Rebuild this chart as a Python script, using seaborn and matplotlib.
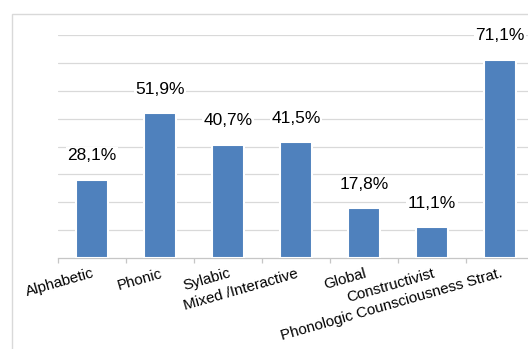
import matplotlib
matplotlib.use("Agg")
import matplotlib.pyplot as plt
from matplotlib.patches import Rectangle
import seaborn as sns

# Reading-teaching methods and share of respondents using them (%)
methods = [
    "Alphabetic",
    "Phonic",
    "Sylabic",
    "Mixed /Interactive",
    "Global",
    "Constructivist",
    "Phonologic Counsciousness Strat.",
]
shares = [28.1, 51.9, 40.7, 41.5, 17.8, 11.1, 71.1]
grid_levels = [10, 20, 30, 40, 50, 60, 70, 80]

BAR_BLUE = "#4F81BD"
GRID_GREY = "#d9d9d9"
AXIS_GREY = "#c6c6c6"

sns.set_style("white")
plt.rcParams["font.family"] = ["Liberation Sans", "DejaVu Sans"]

W, H = 528, 349
fig = plt.figure(figsize=(W / 100, H / 100), dpi=100)

# outer chart frame (runs off the right and bottom edges)
fig.patches.append(
    Rectangle((12 / W, -0.1), 1.2, (H - 14) / H + 0.1, transform=fig.transFigure,
              fill=False, edgecolor=GRID_GREY, linewidth=1.0)
)

ax = fig.add_axes([58 / W, 91 / H, (534 - 58) / W, 223 / H])

sns.barplot(x=methods, y=shares, color=BAR_BLUE, saturation=1, width=0.47,
            edgecolor="white", linewidth=1.5, ax=ax, zorder=3)

ax.set_ylim(0, 80)
ax.set_xlim(-0.5, len(methods) - 0.5)
ax.set_yticks([])
for lvl in grid_levels:
    ax.axhline(lvl, color=GRID_GREY, linewidth=0.9, zorder=1)

for side in ("top", "right", "left"):
    ax.spines[side].set_visible(False)
ax.spines["bottom"].set_color(AXIS_GREY)
ax.spines["bottom"].set_linewidth(0.9)

# tick marks between categories, labels under category centres
ax.set_xticks([i - 0.5 for i in range(len(methods) + 1)], minor=True)
ax.tick_params(axis="x", which="minor", bottom=True, length=3.5, width=0.9, color=AXIS_GREY)
ax.tick_params(axis="x", which="major", bottom=True, length=0, pad=6)
ax.set_xticks(range(len(methods)))
ax.set_xticklabels(methods, rotation=16, ha="right", rotation_mode="anchor",
                   fontsize=10.9, color="black")
ax.set_xlabel("")
ax.set_ylabel("")

# value labels above bars
for bar, val in zip(ax.patches, shares):
    txt = f"{val:.1f}".replace(".", ",") + "%"
    ax.annotate(txt, (bar.get_x() + bar.get_width() / 2, val),
                xytext=(0, 14), textcoords="offset points",
                ha="center", va="baseline", fontsize=12.5, color="black",
                annotation_clip=False, zorder=4,
                bbox=dict(facecolor="white", edgecolor="none", pad=1.0))

fig.savefig("out.png", dpi=100)
